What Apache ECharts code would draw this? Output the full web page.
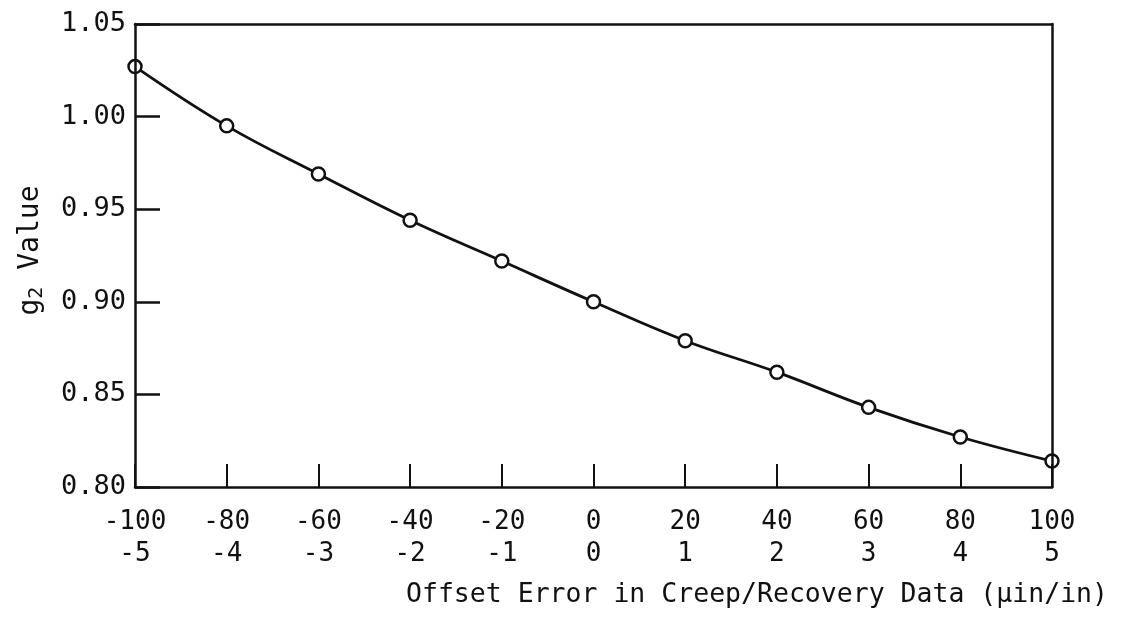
<!DOCTYPE html>
<html>
<head>
<meta charset="utf-8">
<script src="https://cdn.jsdelivr.net/npm/echarts@6/dist/echarts.min.js"></script>
<style>
  html, body { margin: 0; padding: 0; background: #fff; }
  #chart { width: 1121px; height: 620px; }
</style>
</head>
<body>
<div id="chart"></div>
<script>
// Offset error (μin/in) applied to creep / recovery data
const offsetError = [-100, -80, -60, -40, -20, 0, 20, 40, 60, 80, 100];
// Second label row under each offset value
const offsetSecondRow = [-5, -4, -3, -2, -1, 0, 1, 2, 3, 4, 5];
// Resulting g2 value
const g2Value = [1.027, 0.995, 0.969, 0.944, 0.922, 0.900, 0.879, 0.862, 0.843, 0.827, 0.814];

const FONT = '"DejaVu Sans Mono", "Liberation Mono", monospace';
const INK = '#111';

const chart = echarts.init(document.getElementById('chart'));

// Plain lines closing the frame on the top and right sides
const frameAxis = {
  axisLine: { show: true, onZero: false, lineStyle: { color: INK, width: 2.5 } },
  axisTick: { show: false },
  axisLabel: { show: false },
  splitLine: { show: false },
  z: 5
};

chart.setOption({
  backgroundColor: '#fff',
  animation: false,
  title: {
    text: 'Offset Error in Creep/Recovery Data (μin/in)',
    left: 401,
    top: 577,
    textStyle: { fontFamily: FONT, fontSize: 26.5, fontWeight: 'normal', color: INK }
  },
  grid: { left: 135, right: 69, top: 24, bottom: 133, show: false },
  xAxis: [
    {
      type: 'value',
      min: -100, max: 100, interval: 20,
      position: 'bottom',
      axisLine: { show: true, onZero: false, lineStyle: { color: INK, width: 2.5 } },
      axisTick: { show: true, inside: true, length: 23, lineStyle: { color: INK, width: 2 } },
      splitLine: { show: false },
      axisLabel: {
        margin: 19,
        fontFamily: FONT, fontSize: 26, color: INK, lineHeight: 32,
        formatter: v => {
          const i = offsetError.indexOf(v);
          return v + '\n' + (i >= 0 ? offsetSecondRow[i] : '');
        }
      },
      z: 5
    },
    Object.assign({ type: 'value', min: -100, max: 100, position: 'top' }, frameAxis)
  ],
  yAxis: [
    {
      type: 'value',
      min: 0.80, max: 1.05, interval: 0.05,
      position: 'left',
      name: '{g|g}{sub|2}{g| Value}',
      nameLocation: 'middle',
      nameGap: 88,
      nameTextStyle: {
        padding: [0, 0, 0, 10],
        rich: {
          g: { fontFamily: FONT, fontSize: 28, color: INK },
          sub: { fontFamily: FONT, fontSize: 20, color: INK, verticalAlign: 'bottom', padding: [12, 0, 0, 0] }
        }
      },
      axisLine: { show: true, onZero: false, lineStyle: { color: INK, width: 2.5 } },
      axisTick: { show: true, inside: true, length: 25, lineStyle: { color: INK, width: 2.5 } },
      splitLine: { show: false },
      axisLabel: {
        margin: 9,
        fontFamily: FONT, fontSize: 27, color: INK,
        formatter: v => v.toFixed(2)
      },
      z: 5
    },
    Object.assign({ type: 'value', min: 0.80, max: 1.05, position: 'right' }, frameAxis)
  ],
  series: [
    {
      type: 'line',
      data: offsetError.map((x, i) => [x, g2Value[i]]),
      smooth: 0.4,
      clip: false,
      symbol: 'circle',
      symbolSize: 13,
      lineStyle: { color: INK, width: 2.8 },
      itemStyle: { color: '#fff', borderColor: INK, borderWidth: 2.5 },
      z: 2
    }
  ]
});
</script>
</body>
</html>
